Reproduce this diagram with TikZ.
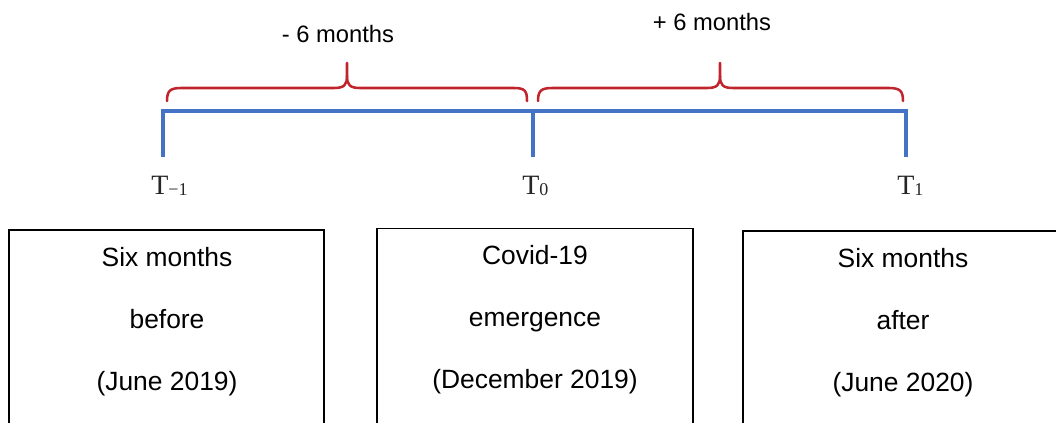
\documentclass[tikz,border=0pt]{standalone}
\usepackage{fontspec}
\setmainfont{Liberation Sans}
\newfontfamily\tfont{Liberation Serif}
\definecolor{tlblue}{HTML}{4472C4}
\definecolor{brred}{HTML}{C0242C}
\begin{document}
\begin{tikzpicture}[x=0.75pt,y=-0.75pt,
  timeline/.style={draw=tlblue,line width=3pt,line cap=butt,line join=miter},
  bracepath/.style={draw=brred,line width=1.9pt,line cap=round},
  lbl/.style={inner sep=0pt,anchor=base,font=\fontsize{17.8}{20}\selectfont},
  tlbl/.style={inner sep=0pt,anchor=base west,text=black!85,font=\tfont\fontsize{21}{24}\selectfont},
  boxtext/.style={inner sep=0pt,anchor=base,align=center,font=\fontsize{19.8}{46.5}\selectfont},
  boxside/.style={draw=black,line width=1pt}]
\useasboundingbox (0,0) rectangle (1056,422);
% timeline coordinates
\coordinate (am) at (163,111);
\coordinate (bm) at (163,157);
\coordinate (a0) at (533,111);
\coordinate (b0) at (533,157);
\coordinate (a1) at (906,111);
\coordinate (b1) at (906,157);
\draw[timeline] (bm) -- (am) -- (a1) -- (b1);
\draw[timeline] (a0) -- (b0);
% braces
\draw[bracepath] (167,101) .. controls (167,91) and (170,88) .. (181,88) -- (334,88)
  .. controls (344,88) and (347,85) .. (347,76) -- (347,63);
\draw[bracepath] (347,76) .. controls (347,85) and (350,88) .. (360,88) -- (514,88)
  .. controls (525,88) and (527,91) .. (527,101);
\draw[bracepath] (538,101) .. controls (538,91) and (541,88) .. (552,88) -- (707,88)
  .. controls (717,88) and (720,85) .. (720,76) -- (720,63);
\draw[bracepath] (720,76) .. controls (720,85) and (723,88) .. (733,88) -- (889,88)
  .. controls (900,88) and (903,91) .. (903,101);
% brace labels
\node[lbl] (minus) at (338,42) {- 6 months};
\node[lbl] (plus) at (712,30) {+ 6 months};
% T labels
\node[tlbl] (tm) at (151,194) {T\raisebox{-1pt}{\fontsize{13.5}{15}\selectfont −1}};
\node[tlbl] (tz) at (522,194) {T\raisebox{-1pt}{\fontsize{13.5}{15}\selectfont 0}};
\node[tlbl] (to) at (897,194) {T\raisebox{-1pt}{\fontsize{13.5}{15}\selectfont 1}};
% boxes
\draw[boxside] (9,423) -- (9,230) -- (324,230) -- (324,423);
\draw[boxside] (377,423) -- (377,228.5) -- (693,228.5) -- (693,423);
\draw[boxside] (743,423) -- (743,231) -- (1060,231);
\node[boxtext] (before) at (167,390) {Six months\\before\\(June 2019)};
\node[boxtext] (emerg) at (535,388) {Covid-19\\emergence\\(December 2019)};
\node[boxtext] (after) at (903,391) {Six months\\after\\(June 2020)};
\end{tikzpicture}
\end{document}
